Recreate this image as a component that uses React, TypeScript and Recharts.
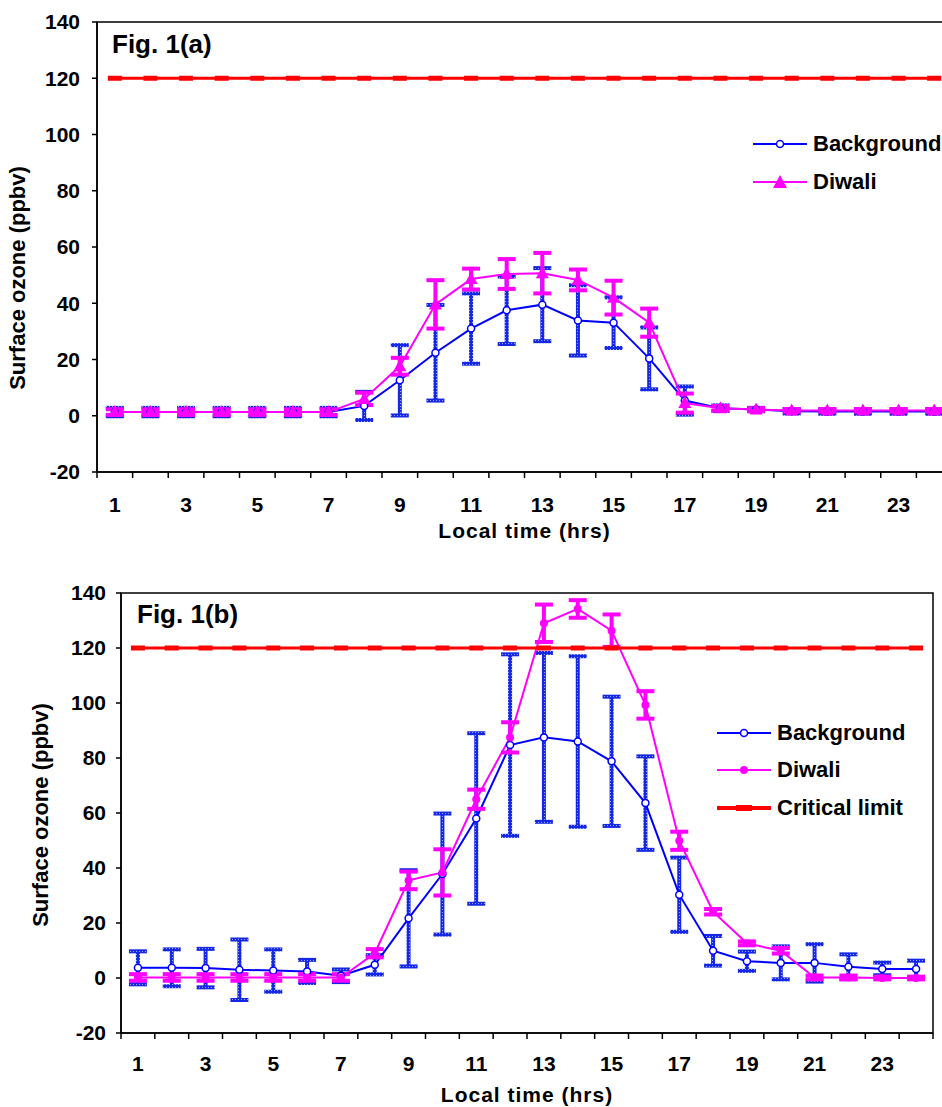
import React from 'react';
import { LineChart, Line, XAxis, YAxis, ErrorBar, ReferenceArea, Legend, Label } from 'recharts';

// hour of day (category axis)
const hours = [1, 2, 3, 4, 5, 6, 7, 8, 9, 10, 11, 12, 13, 14, 15, 16, 17, 18, 19, 20, 21, 22, 23, 24];
const xTickLabels = ['1', '3', '5', '7', '9', '11', '13', '15', '17', '19', '21', '23'];
const yTicks = [-20, 0, 20, 40, 60, 80, 100, 120, 140];

// Fig. 1(a)
const backgroundA = [1.3, 1.3, 1.3, 1.3, 1.3, 1.3, 1.3, 3.5, 12.6, 22.4, 31.0, 37.5, 39.5, 33.9, 33.1, 20.4, 5.4, 2.7, 2.2, 1.6, 1.5, 1.5, 1.5, 1.5];
const backgroundAErr = [1.5, 1.5, 1.5, 1.5, 1.5, 1.5, 1.5, 5, 12.5, 17, 12.5, 12, 13, 12.5, 9, 11, 5, 1, 0.6, 0.8, 0.8, 0.8, 0.8, 0.8];
const diwaliA = [1.3, 1.3, 1.3, 1.3, 1.3, 1.3, 1.3, 6.0, 17.6, 39.6, 48.6, 50.4, 50.7, 48.3, 42.0, 33.1, 4.5, 2.7, 2.2, 1.9, 1.9, 1.9, 1.9, 1.9];
const diwaliAErr = [1, 1, 1, 1, 1, 1, 1, 2.2, 3, 8.6, 3.7, 5.3, 7.2, 3.7, 6, 5, 3.4, 0.8, 0.5, 0.5, 0.5, 0.5, 0.5, 0.5];

// Fig. 1(b)
const backgroundB = [3.7, 3.7, 3.6, 3.0, 2.7, 2.4, 0.8, 4.8, 21.7, 37.8, 58.0, 84.7, 87.5, 86.0, 78.8, 63.6, 30.3, 9.9, 6.1, 5.5, 5.5, 4.1, 3.3, 3.3];
const backgroundBErr = [6, 6.7, 7, 11, 7.7, 4.2, 2.3, 3.5, 17.5, 22, 31, 33, 30.7, 31, 23.5, 17, 13.5, 5.4, 3.5, 6, 6.8, 4.5, 2.3, 3];
const diwaliB = [0.2, 0.2, 0.2, 0.2, 0.2, 0.2, 0.2, 9.0, 35.5, 38.4, 65.0, 87.5, 129.0, 134.2, 126.3, 99.3, 49.9, 24.1, 12.6, 9.9, 0.2, 0.2, 0, 0];
const diwaliBErr = [1.2, 1.2, 1.2, 1.2, 1.2, 1.2, 1.2, 1.5, 3.2, 8.4, 3.5, 5.5, 6.8, 3.2, 5.9, 5, 3.3, 1, 0.7, 1, 0.7, 0.7, 0.5, 0.5];

const criticalLimit = [120, 120, 120, 120, 120, 120, 120, 120, 120, 120, 120, 120, 120, 120, 120, 120, 120, 120, 120, 120, 120, 120, 120, 120];

const FONT = '"Liberation Sans", Arial, sans-serif';
const BLUE = '#0000ff';
const MAGENTA = '#ff00ff';
const RED = '#ff0000';

const xTicks = hours.flatMap((h) => [h - 0.5, h]).concat(24.5);

function buildRows(bg: number[], bgErr: number[], dw: number[], dwErr: number[]) {
  return hours.map((h, i) => ({
    hour: h,
    background: bg[i],
    backgroundErr: bgErr[i],
    diwali: dw[i],
    diwaliErr: dwErr[i],
    limit: criticalLimit[i],
  }));
}

const dataA = buildRows(backgroundA, backgroundAErr, diwaliA, diwaliAErr);
const dataB = buildRows(backgroundB, backgroundBErr, diwaliB, diwaliBErr);

const legendA = [
  { key: 'background', name: 'Background', marker: 'circle', color: BLUE },
  { key: 'diwali', name: 'Diwali', marker: 'triangle', color: MAGENTA },
];
const legendB = [
  { key: 'background', name: 'Background', marker: 'circle', color: BLUE },
  { key: 'diwali', name: 'Diwali', marker: 'dot', color: MAGENTA },
  { key: 'limit', name: 'Critical limit', marker: 'dash', color: RED },
];

const tickText = { fill: '#000', fontSize: 21, fontWeight: 700, fontFamily: FONT };

function makeHourTick(labelOffset: number) {
  return (props: any) => {
    const { x, y, payload } = props;
    const v = payload.value;
    if (v % 1 !== 0) {
      return <line key={`t${v}`} x1={x} x2={x} y1={y} y2={y + 6} stroke="#000" strokeWidth={1.5} />;
    }
    if (!xTickLabels.includes(String(v))) return <g key={`t${v}`} />;
    return (
      <text key={`t${v}`} x={x} y={y + labelOffset} textAnchor="middle" {...tickText}>
        {String(v)}
      </text>
    );
  };
}

function triangleDot(props: any) {
  const { cx, cy, index } = props;
  if (cx == null || cy == null) return <g key={`tri${index}`} />;
  return <polygon key={`tri${index}`} points={`${cx},${cy - 7} ${cx - 6.5},${cy + 5} ${cx + 6.5},${cy + 5}`} fill={MAGENTA} />;
}

function dashDot(props: any) {
  const { cx, cy, index } = props;
  if (cx == null || cy == null) return <g key={`dash${index}`} />;
  return <rect key={`dash${index}`} x={cx - 7} y={cy - 2.5} width={14} height={5} fill={RED} />;
}

function LegendIcon({ marker, color }: { marker: string; color: string }) {
  const w = 54;
  return (
    <svg width={w} height={16} style={{ display: 'block' }}>
      <line x1={0} x2={w} y1={8} y2={8} stroke={color} strokeWidth={marker === 'dash' ? 4 : 2} />
      {marker === 'circle' && <circle cx={w / 2} cy={8} r={3.5} fill="#fff" stroke={color} strokeWidth={1.5} />}
      {marker === 'dot' && <circle cx={w / 2} cy={8} r={4} fill={color} />}
      {marker === 'triangle' && <polygon points={`${w / 2},1 ${w / 2 - 7},14 ${w / 2 + 7},14`} fill={color} />}
      {marker === 'dash' && <rect x={w / 2 - 8} y={5} width={16} height={6} fill={color} />}
    </svg>
  );
}

function LegendBox({ items, rowHeight }: { items: typeof legendB; rowHeight: number }) {
  return (
    <div style={{ fontFamily: FONT, fontWeight: 700, fontSize: 22, color: '#000' }}>
      {items.map((it) => (
        <div key={it.key} style={{ display: 'flex', alignItems: 'center', height: rowHeight, whiteSpace: 'nowrap' }}>
          <LegendIcon marker={it.marker} color={it.color} />
          <span style={{ marginLeft: 6 }}>{it.name}</span>
        </div>
      ))}
    </div>
  );
}

function ErrPattern({ id }: { id: string }) {
  return (
    <defs>
      <pattern id={id} patternUnits="userSpaceOnUse" width={3} height={3}>
        <rect width={3} height={3} fill="#1428e6" />
        <rect x={1} y={1} width={1} height={1} fill="#9aa8ff" />
      </pattern>
    </defs>
  );
}

export default function App() {
  return (
    <div style={{ position: 'absolute', left: 0, top: 0, width: 942, height: 1107, overflow: 'hidden', background: '#fff' }}>
      {/* Fig. 1(a) */}
      <div style={{ position: 'absolute', left: 0, top: 0 }}>
        <LineChart width={960} height={560} data={dataA} margin={{ top: 22, right: 8, bottom: 0, left: 0 }}>
          <ErrPattern id="errPatA" />
          <ReferenceArea x1={0.5} x2={24.5} y1={-20} y2={140} fill="none" stroke="#000" strokeWidth={1.5} />
          <XAxis
            dataKey="hour"
            type="number"
            domain={[0.5, 24.5]}
            ticks={xTicks}
            interval={0}
            height={88}
            tickLine={false}
            tickSize={0}
            tickMargin={0}
            tick={makeHourTick(40)}
            axisLine={{ stroke: '#000', strokeWidth: 1.5 }}
          >
            <Label
              content={(p: any) => (
                <text x={p.viewBox.x + p.viewBox.width / 2} y={p.viewBox.y + 66} textAnchor="middle" {...tickText} letterSpacing={1}>
                  Local time (hrs)
                </text>
              )}
            />
          </XAxis>
          <YAxis
            type="number"
            domain={[-20, 140]}
            ticks={yTicks}
            allowDataOverflow
            width={97}
            tickSize={5}
            tickMargin={12}
            tick={tickText}
            tickLine={{ stroke: '#000', strokeWidth: 1.5 }}
            axisLine={{ stroke: '#000', strokeWidth: 1.5 }}
          >
            <Label
              content={() => (
                <text x={25} y={278} transform="rotate(-90 25 278)" textAnchor="middle" {...tickText} fontSize={22}>
                  Surface ozone (ppbv)
                </text>
              )}
            />
          </YAxis>
          <Legend
            layout="vertical"
            align="center"
            verticalAlign="middle"
            wrapperStyle={{ left: 753, top: 125, width: 200 }}
            content={() => <LegendBox items={legendA} rowHeight={38} />}
          />
          <Line
            dataKey="limit"
            name="Critical limit"
            legendType="none"
            stroke={RED}
            strokeWidth={3}
            dot={dashDot}
            isAnimationActive={false}
          />
          <Line
            dataKey="background"
            name="Background"
            stroke={BLUE}
            strokeWidth={2}
            dot={{ r: 3.5, fill: '#fff', stroke: BLUE, strokeWidth: 1.5 }}
            isAnimationActive={false}
          >
            <ErrorBar dataKey="backgroundErr" direction="y" width={9} strokeWidth={4} stroke="url(#errPatA)" />
          </Line>
          <Line dataKey="diwali" name="Diwali" stroke={MAGENTA} strokeWidth={2} dot={triangleDot} isAnimationActive={false}>
            <ErrorBar dataKey="diwaliErr" direction="y" width={9} strokeWidth={4} stroke={MAGENTA} />
          </Line>
        </LineChart>
        <div style={{ position: 'absolute', left: 112, top: 31, fontFamily: FONT, fontWeight: 700, fontSize: 26, lineHeight: '26px' }}>
          Fig. 1(a)
        </div>
      </div>

      {/* Fig. 1(b) */}
      <div style={{ position: 'absolute', left: 0, top: 560 }}>
        <LineChart width={942} height={547} data={dataB} margin={{ top: 33, right: 9, bottom: 0, left: 0 }}>
          <ErrPattern id="errPatB" />
          <ReferenceArea x1={0.5} x2={24.5} y1={-20} y2={140} fill="none" stroke="#000" strokeWidth={1.5} />
          <XAxis
            dataKey="hour"
            type="number"
            domain={[0.5, 24.5]}
            ticks={xTicks}
            interval={0}
            height={74}
            tickLine={false}
            tickSize={0}
            tickMargin={0}
            tick={makeHourTick(38)}
            axisLine={{ stroke: '#000', strokeWidth: 1.5 }}
          >
            <Label
              content={(p: any) => (
                <text x={p.viewBox.x + p.viewBox.width / 2} y={p.viewBox.y + 69} textAnchor="middle" {...tickText} letterSpacing={1}>
                  Local time (hrs)
                </text>
              )}
            />
          </XAxis>
          <YAxis
            type="number"
            domain={[-20, 140]}
            ticks={yTicks}
            allowDataOverflow
            width={121}
            tickSize={5}
            tickMargin={10}
            tick={tickText}
            tickLine={{ stroke: '#000', strokeWidth: 1.5 }}
            axisLine={{ stroke: '#000', strokeWidth: 1.5 }}
          >
            <Label
              content={() => (
                <text x={48} y={255} transform="rotate(-90 48 255)" textAnchor="middle" {...tickText} fontSize={22}>
                  Surface ozone (ppbv)
                </text>
              )}
            />
          </YAxis>
          <Legend
            layout="vertical"
            align="center"
            verticalAlign="middle"
            wrapperStyle={{ left: 717, top: 154, width: 220 }}
            content={() => <LegendBox items={legendB} rowHeight={37.5} />}
          />
          <Line
            dataKey="background"
            name="Background"
            stroke={BLUE}
            strokeWidth={2}
            dot={{ r: 3.5, fill: '#fff', stroke: BLUE, strokeWidth: 1.5 }}
            isAnimationActive={false}
          >
            <ErrorBar dataKey="backgroundErr" direction="y" width={9} strokeWidth={4} stroke="url(#errPatB)" />
          </Line>
          <Line dataKey="diwali" name="Diwali" stroke={MAGENTA} strokeWidth={2} dot={{ r: 4, fill: MAGENTA, stroke: 'none' }} isAnimationActive={false}>
            <ErrorBar dataKey="diwaliErr" direction="y" width={9} strokeWidth={4} stroke={MAGENTA} />
          </Line>
          <Line dataKey="limit" name="Critical limit" stroke={RED} strokeWidth={3} dot={dashDot} isAnimationActive={false} />
        </LineChart>
        <div style={{ position: 'absolute', left: 137, top: 41, fontFamily: FONT, fontWeight: 700, fontSize: 26, lineHeight: '26px' }}>
          Fig. 1(b)
        </div>
      </div>
    </div>
  );
}
